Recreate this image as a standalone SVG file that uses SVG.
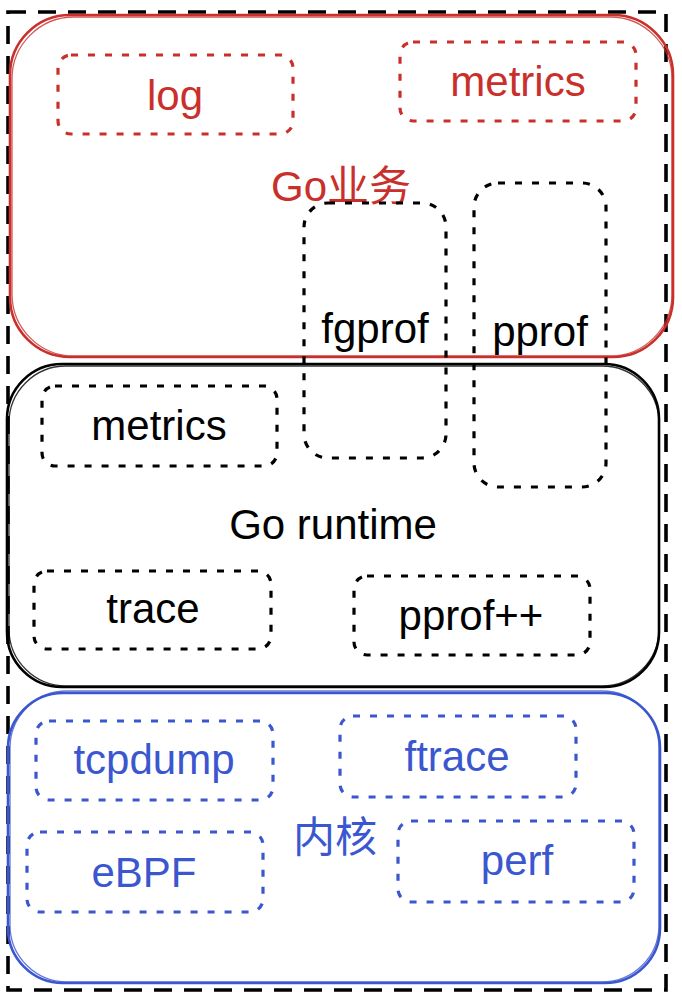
<svg xmlns="http://www.w3.org/2000/svg" width="682" height="998" viewBox="0 0 682 998">
<style>
.t{font-family:"Liberation Sans",Arial,"Noto Sans CJK SC",sans-serif;font-size:42px;text-anchor:middle}
.cjk{font-family:"Liberation Sans","Noto Sans CJK SC",sans-serif;font-size:42px;text-anchor:middle}
.red{fill:#c9302c}
.blk{fill:#000}
.blu{fill:#3b57d0}
.big{fill:none;stroke-width:2.6}
.big2{fill:none;stroke-width:1.3;opacity:0.8}
.dot{fill:none;stroke-width:3.2;stroke-dasharray:7 10;stroke-linecap:butt}
.sr{stroke:#c9302c}
.sk{stroke:#000}
.sb{stroke:#3b57d0}
</style>
<rect width="682" height="998" fill="#fff"/>
<g id="outer">
<rect x="8" y="12" width="658" height="978" fill="none" stroke="#000" stroke-width="3.6" stroke-dasharray="18 12"/>
</g>
<g id="go-business">
<rect class="big sr" x="10" y="15" width="663" height="342" rx="60"/>
<rect class="big2 sr" x="12" y="17" width="660" height="339" rx="62"/>
<text class="cjk red" x="341" y="201">Go业务</text>
</g>
<g id="log">
<rect class="dot sr" x="58" y="55" width="235" height="79" rx="13"/>
<text class="t red" x="175" y="110">log</text>
</g>
<g id="metrics-business">
<rect class="dot sr" x="400" y="42" width="236" height="79" rx="13"/>
<text class="t red" x="518" y="96">metrics</text>
</g>
<g id="go-runtime">
<rect class="big sk" x="7" y="364" width="652" height="323" rx="55"/>
<rect class="big2 sk" x="9" y="366" width="650" height="320" rx="57"/>
<text class="t blk" x="333" y="539">Go runtime</text>
</g>
<g id="fgprof">
<rect class="dot sk" x="304" y="203" width="142" height="255" rx="24"/>
<text class="t blk" x="375" y="343">fgprof</text>
</g>
<g id="pprof">
<rect class="dot sk" x="474" y="183" width="132" height="304" rx="24"/>
<text class="t blk" x="540" y="346">pprof</text>
</g>
<g id="metrics-runtime">
<rect class="dot sk" x="42" y="386" width="235" height="80" rx="13"/>
<text class="t blk" x="159" y="440">metrics</text>
</g>
<g id="trace">
<rect class="dot sk" x="34" y="571" width="237" height="78" rx="13"/>
<text class="t blk" x="153" y="623">trace</text>
</g>
<g id="pprofpp">
<rect class="dot sk" x="354" y="576" width="236" height="79" rx="13"/>
<text class="t blk" x="471" y="630">pprof++</text>
</g>
<g id="kernel">
<rect class="big sb" x="8" y="693" width="652" height="290" rx="55"/>
<rect class="big2 sb" x="10" y="691" width="649" height="291" rx="57"/>
<text class="cjk blu" x="335" y="852">内核</text>
</g>
<g id="tcpdump">
<rect class="dot sb" x="36" y="721" width="237" height="79" rx="13"/>
<text class="t blu" x="154" y="774">tcpdump</text>
</g>
<g id="ftrace">
<rect class="dot sb" x="340" y="716" width="236" height="81" rx="13"/>
<text class="t blu" x="457" y="771">ftrace</text>
</g>
<g id="ebpf">
<rect class="dot sb" x="27" y="832" width="236" height="80" rx="13"/>
<text class="t blu" x="144" y="887">eBPF</text>
</g>
<g id="perf">
<rect class="dot sb" x="398" y="821" width="236" height="81" rx="13"/>
<text class="t blu" x="517" y="875">perf</text>
</g>
<g id="connectors"></g>
</svg>
